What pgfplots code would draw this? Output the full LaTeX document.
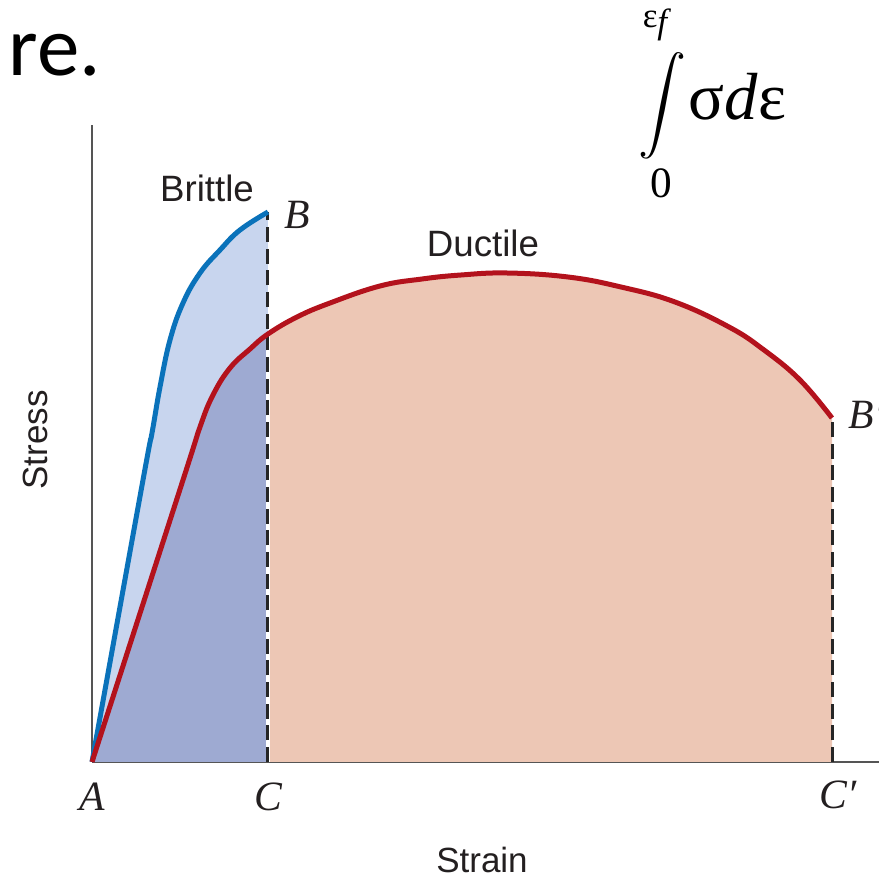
\documentclass[border=0pt]{standalone}
\usepackage{amsmath}
\usepackage{pgfplots}
\usepackage{pgfplotstable}
\pgfplotsset{compat=1.18}
\usepackage{fontspec}
\setmainfont{Liberation Sans}
\newfontfamily\tnr{Liberation Serif}
\newfontfamily\calib{Carlito}

\definecolor{brittleblue}{HTML}{0A72BA}
\definecolor{ductred}{HTML}{B3121C}
\definecolor{lightblue}{HTML}{C8D5EE}
\definecolor{darkblue}{HTML}{9EAAD2}
\definecolor{peach}{HTML}{EDC7B5}
\definecolor{axgray}{HTML}{555555}
\definecolor{txt}{HTML}{231F20}

% brittle curve A -> B
\pgfplotstableread{
x y
0 0
51 282
60 329
68 375
78 422
91 459
108 489
128 512
148 532
176 550
}\brittle

% ductile curve, part under the brittle range (A -> C)
\pgfplotstableread{
x y
0 0
91 282
108 335
121 367
138 394
158 413
176 428
}\ductA

% ductile curve, C -> B'
\pgfplotstableread{
x y
176 428
205 445
238 459
288 476
330 483
369 487
415 489
476 485
529 475
583 460
637 435
672 412
708 382
740 344
}\ductB

% whole ductile curve for the line
\pgfplotstableread{
x y
0 0
91 282
108 335
121 367
138 394
158 413
176 428
205 445
238 459
288 476
330 483
369 487
415 489
476 485
529 475
583 460
637 435
672 412
708 382
740 344
}\duct

\begin{document}
\begin{tikzpicture}
\begin{axis}[
  x=0.3pt, y=0.3pt,
  xmin=0, xmax=787,
  ymin=0, ymax=637,
  axis lines=left,
  axis line style={-, draw=axgray, line width=0.7pt},
  xtick=\empty, ytick=\empty,
  clip=false,
  ]
  % fills
  \addplot[fill=lightblue, draw=none, smooth, tension=0.7] table {\brittle} \closedcycle;
  \addplot[fill=darkblue, draw=none, smooth, tension=0.7] table {\ductA} \closedcycle;
  \addplot[fill=peach, draw=none, smooth, tension=0.7] table {\ductB} \closedcycle;

  % dashed verticals at C and C'
  \addplot[white, line width=1.1pt] coordinates {(176,0) (176,428)};
  \addplot[black!85, line width=0.9pt, dash pattern=on 4.5pt off 2pt] coordinates {(176,0) (176,550)};
  \addplot[black!85, line width=0.9pt, dash pattern=on 4.5pt off 2pt] coordinates {(740,0) (740,344)};

  % curves
  \addplot[brittleblue, line width=1.5pt, smooth, tension=0.7] table {\brittle};
  \addplot[ductred, line width=1.5pt, smooth, tension=0.7] table {\duct};

  % labels
  \node[txt, font=\fontsize{11}{13}\selectfont] at (axis cs:115,574) {Brittle};
  \node[txt, font=\fontsize{11}{13}\selectfont] at (axis cs:391,519) {Ductile};
  \node[txt, font=\tnr\itshape\fontsize{12.5}{14}\selectfont] at (axis cs:205,547) {B};
  \node[txt, anchor=west, inner sep=0pt, font=\tnr\itshape\fontsize{12.5}{14}\selectfont] at (axis cs:756,347) {B′};
  \node[txt, font=\tnr\itshape\fontsize{12.5}{14}\selectfont] at (axis cs:0,-35) {A};
  \node[txt, font=\tnr\itshape\fontsize{12.5}{14}\selectfont] at (axis cs:176,-35) {C};
  \node[txt, font=\tnr\itshape\fontsize{12.5}{14}\selectfont] at (axis cs:746,-33) {C′};
  \node[txt, rotate=90, font=\fontsize{10.5}{12}\selectfont] at (axis cs:-57,322) {Stress};
  \node[txt, font=\fontsize{10.5}{12}\selectfont] at (axis cs:390,-98) {Strain};

  % integral
  \node[black, inner sep=0pt, font=\fontsize{14.5}{16}\selectfont] at (axis cs:570,656) {$\displaystyle\int$};
  \node[black, anchor=base west, inner sep=0pt, font=\tnr\fontsize{20}{22}\selectfont] at (axis cs:596,642) {σ\textit{d}ε};
  \node[black, inner sep=0pt, font=\tnr\fontsize{10.5}{12}\selectfont] at (axis cs:565,737) {ε\raisebox{-0.35ex}{\textit{f}}};
  \node[black, inner sep=0pt, font=\tnr\fontsize{13}{15}\selectfont] at (axis cs:569,579) {0};

  % cropped heading text
  \node[black, anchor=base west, inner sep=0pt, font=\calib\fontsize{25.5}{28}\selectfont] at (axis cs:-84,686) {re.};

  \coordinate (sw) at (axis cs:-92,-116);
  \coordinate (ne) at (axis cs:787,762);
\end{axis}
\pgfresetboundingbox
\useasboundingbox (sw) rectangle (ne);
\end{tikzpicture}
\end{document}
